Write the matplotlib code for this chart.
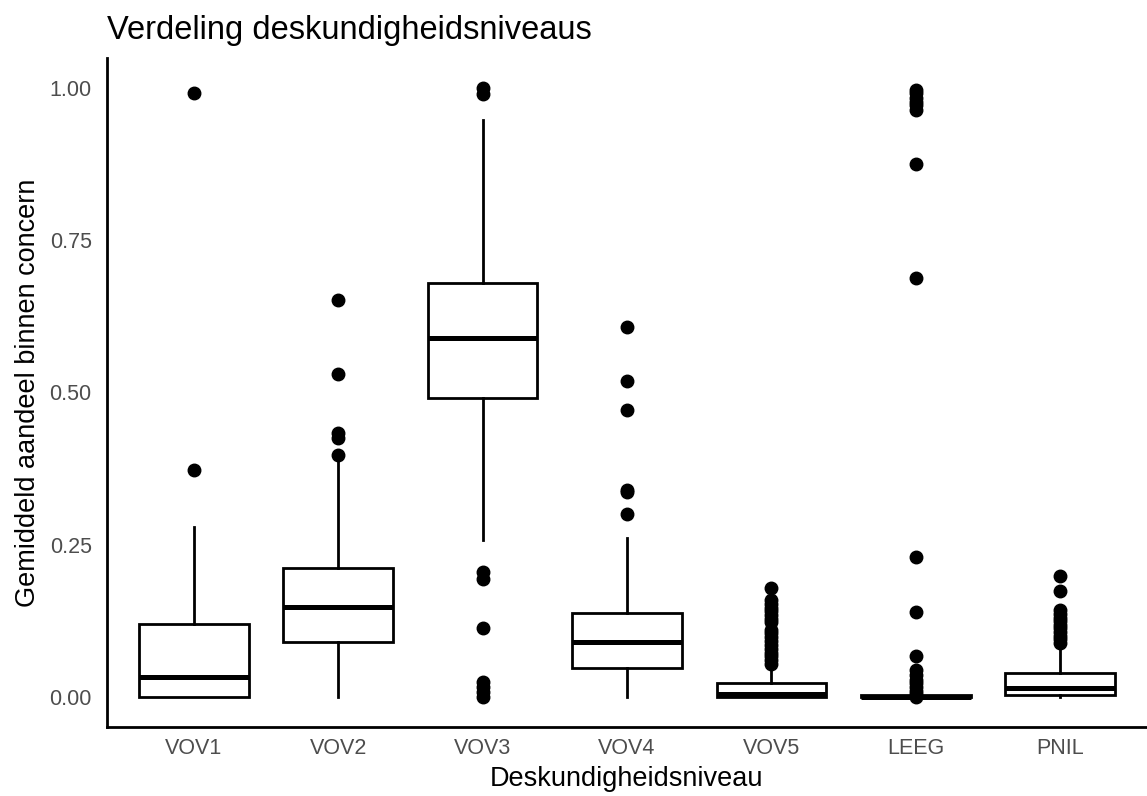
import matplotlib
matplotlib.use("Agg")
import matplotlib.pyplot as plt

plt.rcParams['font.family'] = ['Liberation Sans', 'DejaVu Sans']

# categorieën en boxplot-statistieken
niveaus = ["VOV1", "VOV2", "VOV3", "VOV4", "VOV5", "LEEG", "PNIL"]
q1 = [0.000, 0.090, 0.491, 0.047, 0.000, 0.000, 0.003]
mediaan = [0.032, 0.147, 0.589, 0.089, 0.004, 0.000, 0.014]
q3 = [0.120, 0.212, 0.680, 0.138, 0.023, 0.002, 0.038]
whis_laag = [0.000, 0.000, 0.257, 0.000, 0.000, 0.000, 0.000]
whis_hoog = [0.279, 0.390, 0.948, 0.261, 0.050, 0.004, 0.084]
uitschieters = [
    [0.373, 0.993],
    [0.397, 0.425, 0.433, 0.530, 0.652],
    [0.000, 0.008, 0.016, 0.024, 0.113, 0.194, 0.205, 0.990, 1.000],
    [0.300, 0.336, 0.340, 0.472, 0.519, 0.607],
    [0.054, 0.060, 0.066, 0.072, 0.078, 0.085, 0.092, 0.098, 0.104,
     0.110, 0.122, 0.128, 0.134, 0.140, 0.146, 0.152, 0.158, 0.178],
    [0.000, 0.005, 0.010, 0.016, 0.022, 0.028, 0.035, 0.044, 0.066,
     0.139, 0.230, 0.688, 0.875, 0.965, 0.972, 0.978, 0.985, 0.992, 0.998],
    [0.088, 0.094, 0.100, 0.106, 0.112, 0.118, 0.124, 0.130, 0.136,
     0.142, 0.173, 0.198],
]
y_ticks = [0.00, 0.25, 0.50, 0.75, 1.00]

stats = []
for i, naam in enumerate(niveaus):
    stats.append({
        "label": naam,
        "q1": q1[i],
        "med": mediaan[i],
        "q3": q3[i],
        "whislo": whis_laag[i],
        "whishi": whis_hoog[i],
        "fliers": uitschieters[i],
    })

fig = plt.figure(figsize=(11.47, 7.96), dpi=100)
ax = fig.add_axes([107 / 1147, 1 - 727 / 796, 1 - 107 / 1147, (727 - 58) / 796])

ax.bxp(
    stats,
    positions=range(1, len(niveaus) + 1),
    widths=0.76,
    showcaps=False,
    patch_artist=True,
    boxprops=dict(facecolor="white", edgecolor="black", linewidth=2.0),
    whiskerprops=dict(color="black", linewidth=2.0),
    medianprops=dict(color="black", linewidth=3.6, solid_capstyle="butt"),
    flierprops=dict(marker="o", markerfacecolor="black", markeredgecolor="black",
                    markersize=9, linestyle="none"),
)

ax.set_xlim(0.4, 7.6)
ax.set_ylim(-0.05, 1.05)
ax.set_yticks(y_ticks)
ax.set_yticklabels([f"{v:.2f}" for v in y_ticks])
ax.set_xticks(range(1, len(niveaus) + 1))
ax.set_xticklabels(niveaus)
ax.tick_params(axis="both", length=0, labelsize=15.5, labelcolor="#4d4d4d")
ax.tick_params(axis="y", pad=11)
ax.tick_params(axis="x", pad=8)

for kant in ["top", "right"]:
    ax.spines[kant].set_visible(False)
for kant in ["left", "bottom"]:
    ax.spines[kant].set_linewidth(2.0)
    ax.spines[kant].set_color("black")

ax.set_xlabel("Deskundigheidsniveau", fontsize=19.5, labelpad=5)
ax.set_ylabel("Gemiddeld aandeel binnen concern", fontsize=19.5, labelpad=6)
ax.set_title("Verdeling deskundigheidsniveaus", loc="left", fontsize=23.5, pad=14)

fig.savefig("out.png", dpi=100, facecolor="white")
